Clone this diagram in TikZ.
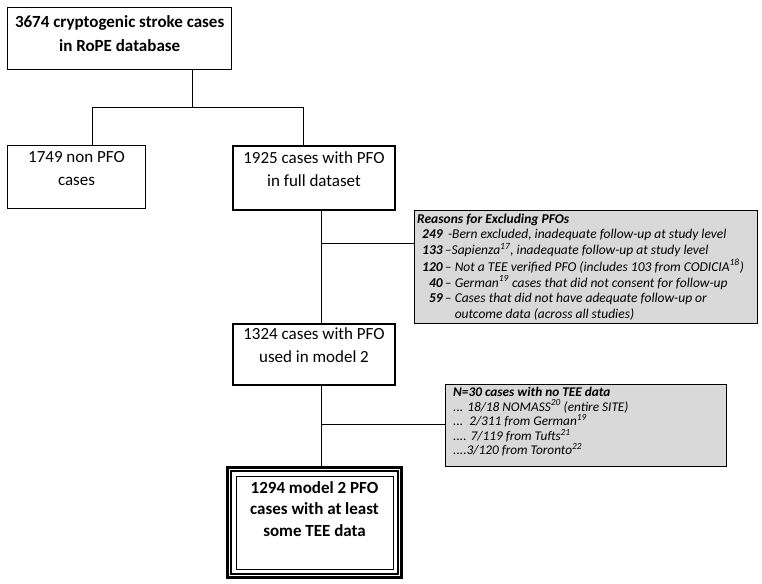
\documentclass[tikz,border=0pt]{standalone}
\usepackage{fontspec}
\setmainfont{Carlito}
\definecolor{notefill}{HTML}{D9D9D9}
\begin{document}
\begin{tikzpicture}[x=1pt,y=-1pt]
\tikzset{
  box/.style={draw, line width=1pt, anchor=north west, inner sep=0pt},
  thickbox/.style={box, line width=2pt},
  lbl/.style={anchor=north, align=center, inner sep=0pt, font=\fontsize{17}{23}\selectfont},
  notebox/.style={draw, line width=1pt, fill=notefill, anchor=north west, inner sep=0pt},
  notetext/.style={anchor=north west, inner sep=0pt, align=left, font=\fontsize{13.5}{15.6}\selectfont\itshape},
  conn/.style={line width=0.9pt}
}
\useasboundingbox (0,0) rectangle (762,583);

% boxes
\node[box, line width=1.3pt, minimum width=224pt, minimum height=62pt] (b1) at (7,7) {};
\node[lbl, font=\fontsize{17}{24}\selectfont\bfseries] (t1) at ([yshift=-8pt]b1.north) {3674 cryptogenic stroke cases\\in RoPE database};

\node[box, minimum width=138pt, minimum height=63pt] (b2) at (7,145) {};
\node[lbl] (t2) at ([yshift=-6pt]b2.north) {1749 non PFO\\cases};

\node[thickbox, minimum width=162pt, minimum height=64pt] (b3) at (232,145) {};
\node[lbl] (t3) at ([yshift=-6pt]b3.north) {1925 cases with PFO\\in full dataset};

\node[thickbox, minimum width=162pt, minimum height=61pt] (b4) at (232,323) {};
\node[lbl] (t4) at ([yshift=-4pt]b4.north) {1324 cases with PFO\\used in model 2};

\node[box, line width=3pt, minimum width=174pt, minimum height=110pt] (b5) at (226,466) {};
\draw[line width=2pt] ([shift={(5,5)}]b5.north west) rectangle ([shift={(-5,-5)}]b5.south east);
\draw[line width=1pt] ([shift={(10,10)}]b5.north west) rectangle ([shift={(-10,-10)}]b5.south east);
\node[lbl, font=\fontsize{17}{21.5}\selectfont\bfseries] (t5) at ([yshift=-15pt]b5.north) {1294 model 2 PFO\\cases with at least\\some TEE data};

% note boxes
\node[notebox, minimum width=343pt, minimum height=113pt] (n1) at (414,210) {};
\node[notetext] (nt1) at ([shift={(3,2)}]n1.north west) {%
\renewcommand{\arraystretch}{1}%
\begin{tabular}{@{\hspace{5pt}}r@{\,}l@{}}
\multicolumn{2}{@{}l}{\bfseries Reasons for Excluding PFOs}\\
\bfseries 249 & \ -Bern excluded, inadequate follow-up at study level\\
\bfseries 133 & –Sapienza\textsuperscript{17}, inadequate follow-up at study level\\
\bfseries 120 & – Not a TEE verified PFO (includes 103 from CODICIA\textsuperscript{18})\\
\bfseries 40 & – German\textsuperscript{19} cases that did not consent for follow-up\\
\bfseries 59 & – Cases that did not have adequate follow-up or\\
 & \phantom{– }outcome data (across all studies)
\end{tabular}};

\node[notebox, minimum width=281pt, minimum height=82pt] (n2) at (445,384) {};
\node[notetext, font=\fontsize{13.3}{14.6}\selectfont\itshape] (nt2) at ([shift={(8,3)}]n2.north west) {%
{\bfseries N=30 cases with no TEE data}\\
... 18/18 NOMASS\textsuperscript{20} (entire SITE)\\
...\ \ 2/311 from German\textsuperscript{19}\\
.... 7/119 from Tufts\textsuperscript{21}\\
....3/120 from Toronto\textsuperscript{22}};

% connectors
\coordinate (j1) at (192,107);
\coordinate (jl) at (92,107);
\coordinate (jr) at (303,107);
\coordinate (tr) at (321,0);
\draw[conn] (b1.south -| j1) -- (j1);
\draw[conn] (b2.north -| jl) -- (jl) -- (jr) -- (b3.north -| jr);
\draw[conn] (b3.south -| tr) -- (b4.north -| tr);
\draw[conn] (n1.west |- 0,243) -- (tr |- 0,243);
\draw[conn] (b4.south -| tr) -- (b5.north -| tr);
\draw[conn] (n2.west |- 0,424) -- (tr |- 0,424);
\end{tikzpicture}
\end{document}
